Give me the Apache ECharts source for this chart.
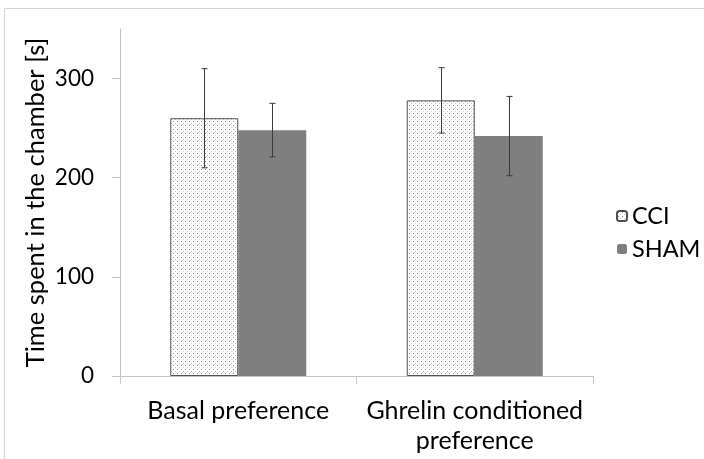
<!DOCTYPE html>
<html>
<head>
<meta charset="utf-8">
<script src="https://cdn.jsdelivr.net/npm/echarts@6/dist/echarts.min.js"></script>
<style>
html,body{margin:0;padding:0;background:#fff;}
#c{width:704px;height:459px;}
</style>
</head>
<body>
<div id="c"></div>
<script>
var categories = ['Basal preference', 'Ghrelin conditioned\npreference'];
var seriesNames = ['CCI', 'SHAM'];
var cciValues = [260, 278];
var shamValues = [248, 242];
var cciErrors = [50, 33];
var shamErrors = [27, 40];
var yTicks = [0, 100, 200, 300];

var FONT = 'Lato';

// dotted pattern for CCI
var pc = document.createElement('canvas');
pc.width = 4; pc.height = 4;
var pctx = pc.getContext('2d');
pctx.fillStyle = '#ffffff';
pctx.fillRect(0, 0, 4, 4);
pctx.fillStyle = '#8c8c8c';
pctx.fillRect(1, 1, 1, 1);
pctx.fillStyle = '#c8c8c8';
pctx.fillRect(3, 3, 1, 1);

var BAR_W = 68;

function errorSeries(values, errors, side) {
  var data = values.map(function (v, i) { return [i, v - errors[i], v + errors[i]]; });
  return {
    type: 'custom',
    name: side < 0 ? 'errCCI' : 'errSHAM',
    silent: true,
    z: 10,
    data: data,
    encode: { x: 0, y: [1, 2] },
    renderItem: function (params, api) {
      var lo = api.coord([api.value(0), api.value(1)]);
      var hi = api.coord([api.value(0), api.value(2)]);
      var x = Math.round(lo[0] + side * BAR_W / 2) + 0.5;
      var cap = 3;
      var st = { stroke: '#3a3a3a', lineWidth: 1 };
      return {
        type: 'group',
        children: [
          { type: 'line', shape: { x1: x, y1: hi[1], x2: x, y2: lo[1] }, style: st },
          { type: 'line', shape: { x1: x - cap, y1: hi[1], x2: x + cap, y2: hi[1] }, style: st },
          { type: 'line', shape: { x1: x - cap, y1: lo[1], x2: x + cap, y2: lo[1] }, style: st }
        ]
      };
    }
  };
}

var chart = echarts.init(document.getElementById('c'), null, { renderer: 'canvas' });
chart.setOption({
  animation: false,
  backgroundColor: '#ffffff',
  graphic: [
    { type: 'line', shape: { x1: 4.5, y1: 8.5, x2: 704, y2: 8.5 }, style: { stroke: '#d4d4d4', lineWidth: 1 } },
    { type: 'line', shape: { x1: 4.5, y1: 8.5, x2: 4.5, y2: 459 }, style: { stroke: '#d4d4d4', lineWidth: 1 } }
  ],
  grid: { left: 120, right: 111, top: 29, bottom: 83 },
  legend: {
    orient: 'vertical',
    left: 611,
    top: 199,
    itemWidth: 10,
    itemHeight: 10,
    itemGap: 9,
    data: seriesNames,
    textStyle: { fontFamily: FONT, fontSize: 23.5, color: '#000', padding: [0, 0, 0, 0] }
  },
  xAxis: {
    type: 'category',
    data: categories,
    axisLine: { lineStyle: { color: '#c4c4c4', width: 1 } },
    axisTick: { show: true, length: 8, lineStyle: { color: '#c4c4c4' } },
    axisLabel: { fontFamily: FONT, fontSize: 25, color: '#000', margin: 20, lineHeight: 30, interval: 0 }
  },
  yAxis: {
    type: 'value',
    min: 0,
    max: 350,
    interval: 100,
    name: 'Time spent in the chamber [s]',
    nameLocation: 'middle',
    nameGap: 71,
    nameMoveOverlap: false,
    nameTextStyle: { fontFamily: FONT, fontSize: 25.5, color: '#000' },
    splitLine: { show: false },
    axisLine: { show: true, lineStyle: { color: '#c4c4c4', width: 1 } },
    axisTick: { show: true, length: 8, customValues: yTicks, lineStyle: { color: '#c4c4c4' } },
    axisLabel: { fontFamily: FONT, fontSize: 22.5, color: '#000', margin: 26, customValues: yTicks }
  },
  series: [
    {
      name: 'CCI',
      type: 'bar',
      barWidth: BAR_W,
      barGap: '0%',
      data: cciValues,
      itemStyle: { color: { image: pc, repeat: 'repeat' }, borderColor: '#505050', borderWidth: 1 }
    },
    {
      name: 'SHAM',
      type: 'bar',
      barWidth: BAR_W,
      barGap: '0%',
      data: shamValues,
      itemStyle: { color: '#7f7f7f' }
    },
    errorSeries(cciValues, cciErrors, -1),
    errorSeries(shamValues, shamErrors, 1)
  ]
});
</script>
</body>
</html>
